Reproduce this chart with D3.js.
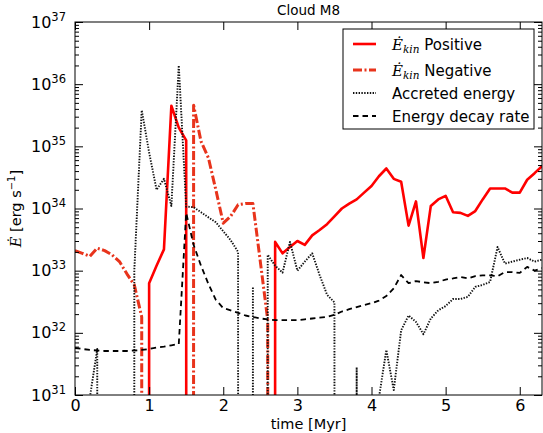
<!DOCTYPE html>
<html>
<head>
<meta charset="utf-8">
<script src="https://cdn.jsdelivr.net/npm/d3@7"></script>
<style>
  body { margin: 0; background: #fff; }
  svg { display: block; font-family: "DejaVu Sans", sans-serif; }
</style>
</head>
<body>
<div id="chart"></div>
<script>
// data (time in Myr, energy rates in erg/s, 0 = below axis)
var time = [0.0,0.1,0.2,0.3,0.4,0.5,0.6,0.7,0.8,0.9,
            1.0,1.1,1.2,1.3,1.4,1.5,1.6,1.7,1.8,1.9,
            2.0,2.1,2.2,2.3,2.4,2.5,2.6,2.7,2.8,2.9,
            3.0,3.1,3.2,3.3,3.4,3.5,3.6,3.7,3.8,3.9,
            4.0,4.1,4.2,4.3,4.4,4.5,4.6,4.7,4.8,4.9,
            5.0,5.1,5.2,5.3,5.4,5.5,5.6,5.7,5.8,5.9,
            6.0,6.1,6.2,6.3];

var positive = [0,0,0,0,0,0,0,0,0,0,
                6.3e32,1.2e33,2.2e33,4.5e35,2.0e35,1.25e35,0,0,0,0,
                0,0,0,0,0,0,0,2.9e33,1.9e33,2.4e33,
                3.0e33,2.6e33,3.7e33,4.5e33,5.6e33,7.5e33,1.0e34,1.2e34,1.4e34,1.8e34,
                2.3e34,3.3e34,4.4e34,3.0e34,2.7e34,5.3e33,1.3e34,1.6e33,1.1e34,1.4e34,
                1.6e34,8.7e33,8.5e33,7.6e33,9.1e33,1.4e34,2.1e34,2.1e34,2.1e34,1.8e34,
                1.8e34,2.9e34,3.7e34,4.8e34];

var negative = [2.1e33,1.9e33,1.7e33,2.3e33,2.1e33,1.8e33,1.4e33,8.9e32,5.9e32,1.8e32,
                0,0,0,0,0,0,4.6e35,1.2e35,6.5e34,2.0e34,
                5.8e33,7.5e33,1.15e34,1.2e34,1.2e34,1.4e33,1.6e32,0,0,0,
                0,0,0,0,0,0,0,0,0,0,
                0,0,0,0,0,0,0,0,0,0,
                0,0,0,0,0,0,0,0,0,0,
                0,0,0,0];

var accreted = [0,0,9e30,5.5e31,0,0,0,0,1.0e33,3.8e35,
                8e34,2.0e34,3.0e34,1.1e34,2.0e36,1.07e34,1.05e34,8.7e33,7.2e33,6.0e33,
                4.3e33,3.1e33,2.0e33,0,5.5e32,0,1.8e33,1.2e33,9.3e32,2.9e33,
                1.0e33,1.4e33,1.9e33,8.5e32,4.1e32,3.1e32,0,0,2.8e31,0,
                0,9e30,5.3e31,1.2e31,1.1e32,1.9e32,1.5e32,9.5e31,1.7e32,2.3e32,
                2.7e32,3.5e32,3.5e32,3.8e32,5.5e32,5.9e32,6.6e32,2.4e33,1.3e33,1.4e33,
                1.5e33,1.6e33,1.4e33,1.5e33];

var decay = [5.7e31,5.5e31,5.3e31,5.2e31,5.1e31,5.1e31,5.1e31,5.1e31,5.2e31,5.3e31,
             5.5e31,5.8e31,6.0e31,6.3e31,6.6e31,8.5e33,2.6e33,1.2e33,6.1e32,3.4e32,
             2.5e32,2.3e32,2.1e32,1.9e32,1.8e32,1.7e32,1.65e32,1.6e32,1.6e32,1.6e32,
             1.6e32,1.65e32,1.7e32,1.75e32,1.8e32,1.95e32,2.2e32,2.4e32,2.6e32,2.8e32,
             3.0e32,3.3e32,3.9e32,5.2e32,8.5e32,6.3e32,6.8e32,6.5e32,6.3e32,6.6e32,
             7.2e32,7.5e32,7.9e32,7.5e32,8.2e32,8.4e32,8.4e32,8.1e32,9.5e32,9.5e32,
             9.2e32,1.15e33,1.0e33,1.1e33];

var xTicks = [0,1,2,3,4,5,6];
var decades = [31,32,33,34,35,36,37];

// setting up
var W = 543, H = 433;
var margin = {top: 22, right: 1, bottom: 38, left: 75};
var innerW = W - margin.left - margin.right;
var innerH = H - margin.top - margin.bottom;

var svg = d3.select("#chart").append("svg")
    .attr("width", W)
    .attr("height", H);

var g = svg.append("g")
    .attr("transform", "translate(" + margin.left + "," + margin.top + ")");

var x = d3.scaleLinear().domain([0, 6.3]).range([0, innerW]);
var y = d3.scaleLog().domain([1e31, 1e37]).range([innerH, 0]);

// zero values are sent far below the axes, so the line drops straight down
function yv(v) { return v > 0 ? y(v) : innerH + 50000; }

svg.append("defs").append("clipPath").attr("id", "plotclip")
    .append("rect").attr("width", innerW).attr("height", innerH);

var line = d3.line()
    .x(function(d, i) { return x(time[i]); })
    .y(function(d) { return yv(d); });

var plot = g.append("g").attr("clip-path", "url(#plotclip)");

var negColor = "#e8341c";
var series = [
  {data: positive, color: "red",    width: 2.6, dash: null},
  {data: negative, color: negColor, width: 3,   dash: "9,2.5,2,2.5"},
  {data: accreted, color: "#111",   width: 1.9, dash: "1.4,1.4"},
  {data: decay,    color: "black",  width: 1.8, dash: "5.5,4"}
];

series.forEach(function(s) {
  plot.append("path")
      .datum(s.data)
      .attr("d", line)
      .attr("fill", "none")
      .attr("stroke", s.color)
      .attr("stroke-width", s.width)
      .attr("stroke-dasharray", s.dash)
      .attr("stroke-linejoin", "round");
});

// axes, inward ticks on every side
var minors = [];
decades.slice(0, -1).forEach(function(e) {
  for (var k = 2; k <= 9; k++) minors.push(k * Math.pow(10, e));
});
var majors = decades.map(function(e) { return Math.pow(10, e); });

g.append("g").attr("transform", "translate(0," + innerH + ")")
  .call(d3.axisBottom(x).tickValues(xTicks).tickSize(-8).tickSizeOuter(0).tickPadding(5)
        .tickFormat(d3.format("d")));
g.append("g")
  .call(d3.axisTop(x).tickValues(xTicks).tickSize(-8).tickSizeOuter(0).tickFormat(""));
g.append("g")
  .call(d3.axisLeft(y).tickValues(majors).tickSize(-8).tickSizeOuter(0).tickFormat(""));
g.append("g")
  .call(d3.axisLeft(y).tickValues(minors).tickSize(-4).tickSizeOuter(0).tickFormat(""));
g.append("g").attr("transform", "translate(" + innerW + ",0)")
  .call(d3.axisRight(y).tickValues(majors).tickSize(-8).tickSizeOuter(0).tickFormat(""));
g.append("g").attr("transform", "translate(" + innerW + ",0)")
  .call(d3.axisRight(y).tickValues(minors).tickSize(-4).tickSizeOuter(0).tickFormat(""));

g.selectAll(".domain").remove();
g.selectAll(".tick line").attr("stroke", "black").attr("stroke-width", 1);
g.selectAll(".tick text")
  .attr("font-family", "DejaVu Sans")
  .attr("font-size", 16)
  .attr("fill", "black");

// y tick labels as 10^n
decades.forEach(function(e) {
  var t = g.append("text")
      .attr("x", -9)
      .attr("y", y(Math.pow(10, e)) + 5.5)
      .attr("text-anchor", "end")
      .attr("font-size", 16)
      .attr("fill", "black");
  t.append("tspan").text("10");
  t.append("tspan").attr("dy", -7).attr("font-size", 11.5).text(e);
});

// frame
g.append("rect")
  .attr("width", innerW)
  .attr("height", innerH)
  .attr("fill", "none")
  .attr("stroke", "black")
  .attr("stroke-width", 1);

// title and axis labels
svg.append("text")
  .attr("x", margin.left + innerW / 2)
  .attr("y", 15)
  .attr("text-anchor", "middle")
  .attr("font-size", 13.5)
  .text("Cloud M8");

svg.append("text")
  .attr("x", margin.left + innerW / 2)
  .attr("y", 429)
  .attr("text-anchor", "middle")
  .attr("font-size", 14.5)
  .text("time [Myr]");

var yl = svg.append("text")
  .attr("transform", "translate(21," + (margin.top + innerH / 2) + ") rotate(-90)")
  .attr("text-anchor", "middle")
  .attr("font-size", 14.5);
yl.append("tspan").attr("font-family", "DejaVu Serif").attr("font-style", "italic").text("\u0116");
yl.append("tspan").text(" [erg s");
yl.append("tspan").attr("dy", -6).attr("font-size", 10).text("\u22121");
yl.append("tspan").attr("dy", 6).text("]");

// legend
var legend = svg.append("g").attr("transform", "translate(343,29)");
legend.append("rect")
  .attr("width", 191)
  .attr("height", 100)
  .attr("fill", "white")
  .attr("stroke", "black")
  .attr("stroke-width", 1);

var legendRows = [
  {y: 15,  kin: true,  label: " Positive"},
  {y: 41,  kin: true,  label: " Negative"},
  {y: 64,  kin: false, label: "Accreted energy"},
  {y: 87,  kin: false, label: "Energy decay rate"}
];

legendRows.forEach(function(r, i) {
  var s = series[i];
  legend.append("line")
    .attr("x1", 10).attr("x2", 33)
    .attr("y1", r.y).attr("y2", r.y)
    .attr("stroke", s.color)
    .attr("stroke-width", s.width)
    .attr("stroke-dasharray", s.dash);
  var t = legend.append("text")
    .attr("x", 49)
    .attr("y", r.y + 5.5)
    .attr("font-size", 15);
  if (r.kin) {
    t.append("tspan").attr("font-family", "DejaVu Serif").attr("font-style", "italic").text("\u0116");
    t.append("tspan").attr("font-family", "DejaVu Serif").attr("font-style", "italic")
      .attr("font-size", 10.5).attr("dy", 3).text("kin");
    t.append("tspan").attr("dy", -3).text(r.label);
  } else {
    t.text(r.label);
  }
});
</script>
</body>
</html>
